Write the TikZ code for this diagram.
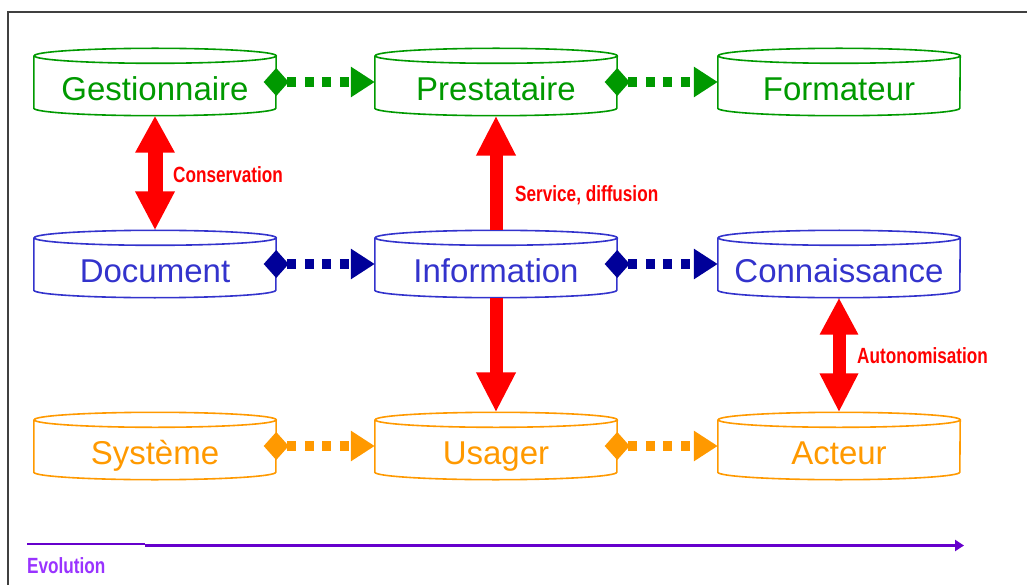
\documentclass[tikz,border=0pt]{standalone}
\usepackage{fontspec}
\setmainfont{Liberation Sans}
\newfontfamily\lblfont[FakeStretch=0.78]{Liberation Sans}
\usetikzlibrary{arrows.meta}

\definecolor{grn}{HTML}{009900}
\definecolor{blu}{HTML}{3333CC}
\definecolor{navy}{HTML}{000099}
\definecolor{org}{HTML}{FF9900}
\definecolor{vio}{HTML}{6600CC}
\definecolor{lvio}{HTML}{9933FF}
\definecolor{frame}{HTML}{404040}

% outline of a drum-shaped node: full top ellipse, front half of the bottom one
\newcommand\drumoutline[2]{%
  \draw[#2, line width=1.6pt]
    ([yshift=-7.5pt]#1.north west) -- ([yshift=7.5pt]#1.south west)
    arc[start angle=180, end angle=360, x radius=121pt, y radius=7.5pt]
    -- ([yshift=-7.5pt]#1.north east)
    arc[start angle=0, end angle=360, x radius=121pt, y radius=7.5pt];
}

\tikzset{
  bigtip/.tip={Triangle[width=37pt,length=40pt]},
  drum/.style={minimum width=242pt, minimum height=67pt, inner sep=0pt,
    text height=37pt, text depth=0pt, font=\fontsize{33}{36}\selectfont},
  flow/.style={line width=9.5pt, dash pattern=on 9pt off 8.5pt, dash phase=12.5pt,
    {Diamond[width=28pt,length=25pt]}-{Triangle[width=29pt,length=24pt]}},
  link/.style={draw=red, line width=13pt},
  lbl/.style={red, anchor=west, inner sep=0pt,
    font=\lblfont\bfseries\fontsize{22}{24}\selectfont},
}

\begin{document}
\begin{tikzpicture}[x=1pt, y=-1pt]
  \useasboundingbox (0,0) rectangle (1027,585);

  % page frame
  \draw[frame, line width=1.4pt] (8,600) -- (8,12) -- (1040,12);

  % drums
  \node[drum, text=grn] (g) at (155,82)  {Gestionnaire};
  \node[drum, text=grn] (p) at (496,82)  {Prestataire};
  \node[drum, text=grn] (f) at (839,82)  {Formateur};
  \node[drum, text=blu] (d) at (155,264) {Document};
  \node[drum, text=blu] (i) at (496,264) {Information};
  \node[drum, text=blu] (c) at (839,264) {Connaissance};
  \node[drum, text=org] (s) at (155,446) {Système};
  \node[drum, text=org] (u) at (496,446) {Usager};
  \node[drum, text=org] (a) at (839,446) {Acteur};

  \drumoutline{g}{grn}\drumoutline{p}{grn}\drumoutline{f}{grn}
  \drumoutline{d}{blu}\drumoutline{i}{blu}\drumoutline{c}{blu}
  \drumoutline{s}{org}\drumoutline{u}{org}\drumoutline{a}{org}

  % horizontal flows
  \draw[flow, grn]  ([xshift=-12.5pt]g.east) -- (p.west);
  \draw[flow, grn]  ([xshift=-12.5pt]p.east) -- (f.west);
  \draw[flow, navy] ([xshift=-12.5pt]d.east) -- (i.west);
  \draw[flow, navy] ([xshift=-12.5pt]i.east) -- (c.west);
  \draw[flow, org]  ([xshift=-12.5pt]s.east) -- (u.west);
  \draw[flow, org]  ([xshift=-12.5pt]u.east) -- (a.west);

  % vertical links
  \draw[link, line width=15pt, {Triangle[width=37pt,length=37pt]}-{Triangle[width=37pt,length=39pt]}]
    (g.south) -- (d.north);
  \draw[link, -{bigtip}] (i.north) -- (p.south);
  \draw[link, -{bigtip}] (i.south) -- (u.north);
  \draw[link, {Triangle[width=36pt,length=37pt]}-{Triangle[width=36pt,length=39pt]}]
    (c.south) -- (a.north);

  \node[lbl] (lcons) at (173,175) {Conservation};
  \node[lbl] (lserv) at (515,195) {Service, diffusion};
  \node[lbl] (lauto) at (857,356) {Autonomisation};

  % time axis
  \coordinate (e0) at (27,544);
  \coordinate (e1) at (145,544);
  \coordinate (e2) at (145,545.5);
  \coordinate (e3) at (964,545.5);
  \draw[vio, line width=1.2pt] (e0) -- (e1);
  \draw[vio, line width=3.5pt, -{Triangle[width=11pt,length=9pt]}] (e2) -- (e3);
  \node[lbl, text=lvio] (levo) at (27,566) {Evolution};
\end{tikzpicture}
\end{document}
